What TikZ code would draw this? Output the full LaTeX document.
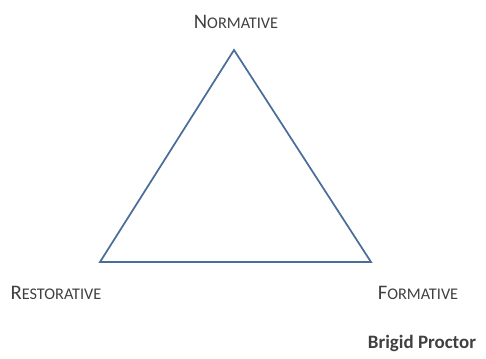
\documentclass[tikz,border=0pt]{standalone}
\usepackage{fontspec}
\setmainfont{Carlito}
\definecolor{tri}{HTML}{4A6E98}
\definecolor{txt}{HTML}{404040}
\newcommand{\myscaps}[2]{{\fontsize{15.5}{15.5}\selectfont #1}{\fontsize{12.2}{12.2}\selectfont #2}}
\begin{document}
\begin{tikzpicture}[x=0.75pt,y=-0.75pt,
  lbl/.style={text=txt,inner sep=0pt}]
\useasboundingbox (0,0) rectangle (486,358);
\coordinate (top) at (234,50);
\coordinate (left) at (100,262);
\coordinate (right) at (371,262);
\draw[tri,line width=1.3pt,line join=miter] (top) -- (right) -- (left) -- cycle;
\node[lbl] (norm) at (236,22) {\myscaps{N}{ORMATIVE}};
\node[lbl] (rest) at (56,293) {\myscaps{R}{ESTORATIVE}};
\node[lbl] (form) at (418,293) {\myscaps{F}{ORMATIVE}};
\node[lbl,font=\bfseries\fontsize{14.2}{14.2}\selectfont,anchor=base] (bp) at (422,348) {Brigid Proctor};
\end{tikzpicture}
\end{document}
